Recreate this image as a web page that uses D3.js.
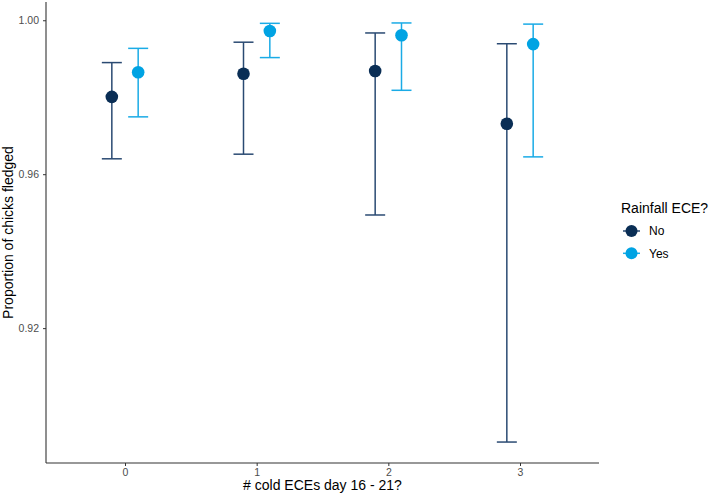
<!DOCTYPE html>
<html>
<head>
<meta charset="utf-8">
<script src="https://cdn.jsdelivr.net/npm/d3@7"></script>
<style>
  body { margin: 0; background: #fff; }
  text { font-family: "Liberation Sans", Arial, sans-serif; }
</style>
</head>
<body>
<div id="chart"></div>
<script>
// data
const categories = ["0", "1", "2", "3"];
const groups = ["No", "Yes"];
const noMean  = [0.9801, 0.9861, 0.9868, 0.9731];
const noLow   = [0.9640, 0.9652, 0.9494, 0.8904];
const noHigh  = [0.9890, 0.9943, 0.9967, 0.9939];
const yesMean = [0.9865, 0.9972, 0.9961, 0.9938];
const yesLow  = [0.9749, 0.9903, 0.9818, 0.9645];
const yesHigh = [0.9927, 0.9992, 0.9993, 0.9990];
const yTicks = [0.92, 0.96, 1.00];

const colors = { No: "#0a2e55", Yes: "#00a3e3" };
const barColors = { No: "#2a4a72", Yes: "#1aabe6" };

const W = 709, H = 498;
const margin = { top: 2, right: 110, bottom: 35, left: 46 };
const width = W - margin.left - margin.right;
const height = H - margin.top - margin.bottom;

const rows = [];
categories.forEach((c, i) => {
    rows.push({ cat: c, group: "No", mean: noMean[i], low: noLow[i], high: noHigh[i] });
    rows.push({ cat: c, group: "Yes", mean: yesMean[i], low: yesLow[i], high: yesHigh[i] });
});

// discrete x with ggplot-like 0.6 expansion
const xIndex = d3.scaleLinear()
    .domain([-0.6, categories.length - 1 + 0.6])
    .range([0, width]);
const xPos = (cat, group) => xIndex(categories.indexOf(cat) + (group === "No" ? -0.1 : 0.1));

const allVals = rows.flatMap(d => [d.low, d.high]);
const yMin = d3.min(allVals), yMax = d3.max(allVals);
const pad = (yMax - yMin) * 0.05;
const yScale = d3.scaleLinear()
    .domain([yMin - pad, yMax + pad])
    .range([height, 0]);

const svg = d3.select("#chart")
    .append("svg")
    .attr("width", W)
    .attr("height", H);

const g = svg.append("g")
    .attr("transform", `translate(${margin.left},${margin.top})`);

// axes
const xAxis = d3.axisBottom(d3.scalePoint().domain(categories).range([xIndex(0), xIndex(categories.length - 1)]))
    .tickSize(3).tickSizeOuter(0).tickPadding(3);
const yAxis = d3.axisLeft(yScale).tickValues(yTicks).tickFormat(d3.format(".2f"))
    .tickSize(3).tickSizeOuter(0).tickPadding(4);

const gx = g.append("g")
    .attr("transform", `translate(0,${height})`)
    .call(xAxis);
gx.select(".domain").attr("d", `M0,0H${width}`);

const gy = g.append("g").call(yAxis);
gy.select(".domain").attr("d", `M0,0V${height}`);

[gx, gy].forEach(a => {
    a.select(".domain").attr("stroke", "#333").attr("stroke-width", 1.1);
    a.selectAll(".tick line").attr("stroke", "#333");
    a.selectAll(".tick text").attr("fill", "#4d4d4d").style("font-size", "10.5px");
});

// error bars
const capW = 10;
const bars = g.selectAll(".err").data(rows).enter().append("g").attr("class", "err")
    .attr("stroke", d => barColors[d.group])
    .attr("stroke-width", 1.5)
    .attr("fill", "none");
bars.append("line")
    .attr("x1", d => xPos(d.cat, d.group)).attr("x2", d => xPos(d.cat, d.group))
    .attr("y1", d => yScale(d.low)).attr("y2", d => yScale(d.high));
bars.append("line")
    .attr("x1", d => xPos(d.cat, d.group) - capW).attr("x2", d => xPos(d.cat, d.group) + capW)
    .attr("y1", d => yScale(d.low)).attr("y2", d => yScale(d.low));
bars.append("line")
    .attr("x1", d => xPos(d.cat, d.group) - capW).attr("x2", d => xPos(d.cat, d.group) + capW)
    .attr("y1", d => yScale(d.high)).attr("y2", d => yScale(d.high));

// points
g.selectAll(".pt").data(rows).enter().append("circle")
    .attr("class", "pt")
    .attr("cx", d => xPos(d.cat, d.group))
    .attr("cy", d => yScale(d.mean))
    .attr("r", 6.3)
    .attr("fill", d => colors[d.group]);

// axis titles
svg.append("text")
    .attr("x", margin.left + width / 2)
    .attr("y", 490)
    .attr("text-anchor", "middle")
    .style("font-size", "14px")
    .text("# cold ECEs day 16 - 21?");

svg.append("text")
    .attr("transform", `translate(13,${margin.top + height / 2}) rotate(-90)`)
    .attr("text-anchor", "middle")
    .style("font-size", "14px")
    .text("Proportion of chicks fledged");

// legend
const lg = svg.append("g").attr("transform", "translate(621,0)");
lg.append("text")
    .attr("x", 0).attr("y", 213)
    .style("font-size", "14px")
    .text("Rainfall ECE?");
groups.forEach((k, i) => {
    const cy = 231 + i * 22.3;
    lg.append("line")
        .attr("x1", 2).attr("x2", 19)
        .attr("y1", cy).attr("y2", cy)
        .attr("stroke", barColors[k]).attr("stroke-width", 1.5);
    lg.append("circle")
        .attr("cx", 10.5).attr("cy", cy).attr("r", 6)
        .attr("fill", colors[k]);
    lg.append("text")
        .attr("x", 28).attr("y", cy + 4.3)
        .style("font-size", "12px")
        .text(k);
});
</script>
</body>
</html>
